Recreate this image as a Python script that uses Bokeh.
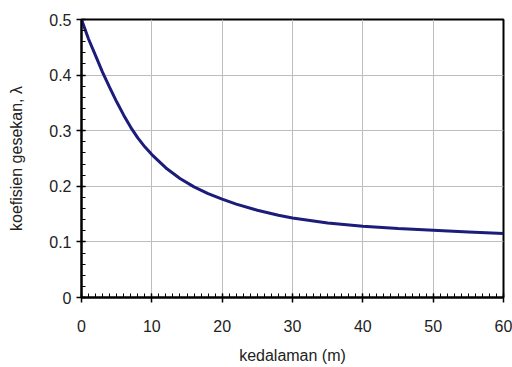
from bokeh.plotting import figure
from bokeh.models import FixedTicker, Range1d
from bokeh.embed import file_html
from bokeh.resources import INLINE

# data
depth = [0, 1, 2, 3, 4, 5, 6, 7, 8, 9, 10, 12, 14, 16, 18, 20, 22, 25, 28, 30, 35, 40, 45, 50, 55, 60]
lam = [0.500, 0.465, 0.435, 0.405, 0.378, 0.352, 0.328, 0.306, 0.287, 0.271, 0.257, 0.233, 0.214, 0.199, 0.187, 0.177, 0.168, 0.157, 0.148, 0.143, 0.134, 0.128, 0.124, 0.121, 0.118, 0.115]

x_ticks = [0, 10, 20, 30, 40, 50, 60]
x_tick_labels = ["0", "10", "20", "30", "40", "50", "60"]
y_ticks = [0, 0.1, 0.2, 0.3, 0.4, 0.5]
y_tick_labels = ["0", "0.1", "0.2", "0.3", "0.4", "0.5"]

FONT = "Liberation Sans"

p = figure(width=512, height=367, output_backend="svg", toolbar_location=None,
           x_range=Range1d(0, 60), y_range=Range1d(0, 0.5),
           min_border_left=81, min_border_right=9, min_border_top=19, min_border_bottom=70)

p.line(depth, lam, line_color="#1c1c7a", line_width=3)

p.xaxis.ticker = FixedTicker(ticks=x_ticks, minor_ticks=[i for i in range(0, 61)])
p.yaxis.ticker = FixedTicker(ticks=y_ticks, minor_ticks=[round(i * 0.02, 2) for i in range(0, 26)])
p.xaxis.major_label_overrides = {t: l for t, l in zip(x_ticks, x_tick_labels)}
p.yaxis.major_label_overrides = {t: l for t, l in zip(y_ticks, y_tick_labels)}

for ax in (p.xaxis, p.yaxis):
    ax.axis_line_color = "black"
    ax.axis_line_width = 2
    ax.major_tick_line_color = "black"
    ax.major_tick_line_width = 1.5
    ax.minor_tick_line_color = "black"
    ax.major_tick_out = 5
    ax.major_tick_in = 4
    ax.minor_tick_out = 0
    ax.minor_tick_in = 4
    ax.major_label_text_font = FONT
    ax.major_label_text_font_size = "16px"
    ax.major_label_text_color = "#222222"
    ax.axis_label_text_font = FONT
    ax.axis_label_text_font_size = "16px"
    ax.axis_label_text_font_style = "normal"
    ax.axis_label_text_color = "#222222"

p.xaxis.axis_label = "kedalaman (m)"
p.yaxis.axis_label = "koefisien gesekan, λ"
p.xaxis.major_label_standoff = 17
p.yaxis.major_label_standoff = 5
p.xaxis.axis_label_standoff = 12
p.yaxis.axis_label_standoff = 21

p.xgrid.ticker = FixedTicker(ticks=x_ticks)
p.ygrid.ticker = FixedTicker(ticks=y_ticks)
p.grid.grid_line_color = "#bdbdbd"
p.grid.grid_line_width = 1

p.outline_line_color = "black"
p.outline_line_width = 2
p.background_fill_color = "white"
p.border_fill_color = "white"

open("out.html", "w").write(file_html(p, INLINE))
